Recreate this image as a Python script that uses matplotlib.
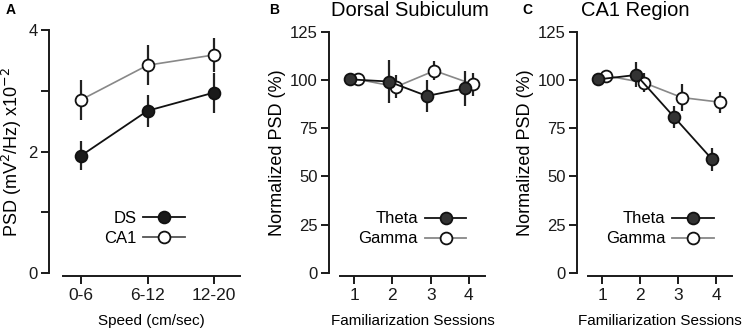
import numpy as np
import matplotlib
matplotlib.use('Agg')
import matplotlib.pyplot as plt
from matplotlib.lines import Line2D

plt.rcParams['font.family'] = ['Liberation Sans', 'DejaVu Sans']

# panel A: PSD vs speed
speeds = ['0-6', '6-12', '12-20']
ds_psd = [1.93, 2.67, 2.97]
ds_err = [0.24, 0.26, 0.33]
ca1_psd = [2.85, 3.42, 3.59]
ca1_err = [0.33, 0.33, 0.28]

# panels B, C: normalized PSD over sessions
sessions = [1, 2, 3, 4]
ds_theta = [100.3, 99.2, 91.7, 95.7]
ds_theta_err = [0, 11, 8.5, 9]
ds_gamma = [100.3, 96.5, 104.8, 97.8]
ds_gamma_err = [0, 6, 5, 6]
ca1_theta = [100.3, 102.6, 80.7, 58.8]
ca1_theta_err = [0, 6.5, 5.6, 6.2]
ca1_gamma = [102.2, 98.6, 90.9, 88.5]
ca1_gamma_err = [0, 5, 7, 5.5]

W, H = 744, 329
fig = plt.figure(figsize=(W / 100, H / 100), dpi=100)


def px_axes(x0, x1, ytop, ybot):
    return fig.add_axes([x0 / W, 1 - ybot / H, (x1 - x0) / W, (ybot - ytop) / H])


def style(ax, spine_px):
    ax.spines['top'].set_visible(False)
    ax.spines['right'].set_visible(False)
    ax.spines['left'].set_position(('outward', spine_px * 0.72))
    ax.spines['bottom'].set_position(('outward', 2))
    for s in ['left', 'bottom']:
        ax.spines[s].set_linewidth(1.4)
        ax.spines[s].set_color('#1a1a1a')
    ax.tick_params(direction='out', length=6, width=1.4, labelsize=12,
                   colors='#1a1a1a', pad=2)


mk = dict(marker='o', markersize=8.5, markeredgewidth=1.3, markeredgecolor='#111111')

# ---- A ----
axA = px_axes(63, 240, 30, 273)
style(axA, 14)
x = np.arange(len(speeds))
axA.errorbar(x, ca1_psd, yerr=ca1_err, color='#888888', ecolor='#222222',
             elinewidth=1.6, capsize=0, lw=1.2, markerfacecolor='white', zorder=3, **mk)
axA.errorbar(x, ds_psd, yerr=ds_err, color='#111111', ecolor='#222222',
             elinewidth=1.6, capsize=0, lw=1.3, markerfacecolor='#1a1a1a', zorder=4, **mk)
axA.set_xlim(-0.27, 2.39)
axA.set_ylim(0, 4)
axA.set_yticks([0, 1, 2, 3, 4])
axA.set_yticklabels(['0', '', '2', '', '4'])
axA.set_xticks(x)
axA.set_xticklabels(speeds)
axA.tick_params(axis='x', labelsize=12.5, pad=3)
axA.set_xlabel('Speed (cm/sec)', fontsize=11, labelpad=8)
axA.set_ylabel('PSD (mV$^{2}$/Hz) x10$^{-2}$', fontsize=13, labelpad=3)
hA = [Line2D([], [], color='#111111', lw=1.3, markerfacecolor='#1a1a1a', **mk),
      Line2D([], [], color='#555555', lw=1.3, markerfacecolor='white', **mk)]
axA.legend(hA, ['DS', 'CA1'], loc='center', bbox_to_anchor=(0.46, 0.185),
           frameon=False, markerfirst=False, handlelength=2.5, fontsize=12,
           labelspacing=0.3, handletextpad=0.4)


def session_panel(x0, x1, theta, theta_err, gamma, gamma_err, title, title_x):
    ax = px_axes(x0, x1, 31.7, 273)
    style(ax, 11)
    s = np.array(sessions)
    ax.errorbar(s + 0.1, gamma, yerr=gamma_err, color='#888888', ecolor='#222222',
                elinewidth=1.6, capsize=0, lw=1.2, markerfacecolor='white', zorder=3, **mk)
    ax.errorbar(s - 0.1, theta, yerr=theta_err, color='#111111', ecolor='#222222',
                elinewidth=1.6, capsize=0, lw=1.3, markerfacecolor='#333333', zorder=4, **mk)
    ax.set_xlim(0.63, 4.42)
    ax.set_ylim(0, 125)
    ax.set_yticks([0, 25, 50, 75, 100, 125])
    ax.set_xticks(sessions)
    ax.tick_params(axis='x', labelsize=12.5, pad=3)
    ax.set_xlabel('Familiarization Sessions', fontsize=11, labelpad=8)
    ax.set_ylabel('Normalized PSD (%)', fontsize=13, labelpad=3)
    h = [Line2D([], [], color='#111111', lw=1.3, markerfacecolor='#333333', **mk),
         Line2D([], [], color='#888888', lw=1.3, markerfacecolor='white', **mk)]
    ax.legend(h, ['Theta', 'Gamma'], loc='center', bbox_to_anchor=(0.5, 0.183),
              frameon=False, markerfirst=False, handlelength=2.5, fontsize=12,
              labelspacing=0.3, handletextpad=0.4)
    fig.text(title_x / W, 1 - 10 / H, title, fontsize=14.5, ha='center', va='center')
    return ax


session_panel(340, 485, ds_theta, ds_theta_err, ds_gamma, ds_gamma_err,
              'Dorsal Subiculum', 410)
session_panel(588, 732, ca1_theta, ca1_theta_err, ca1_gamma, ca1_gamma_err,
              'CA1 Region', 635)

for lbl, xp in [('A', 11), ('B', 274), ('C', 527)]:
    fig.text(xp / W, 1 - 10 / H, lbl, fontsize=10, fontweight='bold', ha='center', va='center')

fig.savefig('out.png', dpi=100)
